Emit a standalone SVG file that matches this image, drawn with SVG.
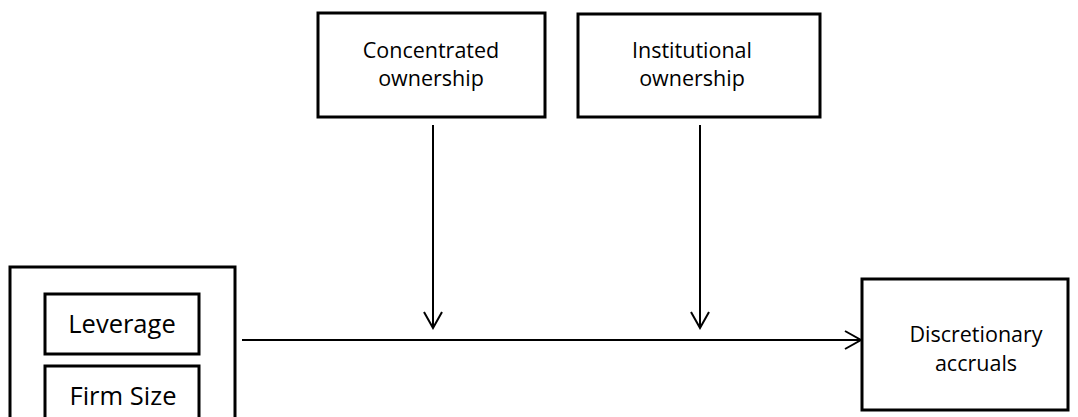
<svg xmlns="http://www.w3.org/2000/svg" width="1078" height="417" viewBox="0 0 1078 417">
<defs>
<style>
.box{fill:#fff;stroke:#000;stroke-width:3}
.t{font-family:"Open Sans","Noto Sans",sans-serif;fill:#000;text-anchor:middle}
.s{font-size:21.5px}
.l{font-size:25.5px}
.c{stroke:#000;stroke-width:2;fill:none}
</style>
<marker id="ah" viewBox="0 0 20 20" refX="18" refY="10" markerWidth="20" markerHeight="20" markerUnits="userSpaceOnUse" orient="auto">
<path d="M2,1 L18,10 L2,19" fill="none" stroke="#000" stroke-width="2"/>
</marker>
</defs>
<rect width="1078" height="417" fill="#fff"/>
<g id="independent">
<rect class="box" x="10" y="267" width="225" height="160"/>
<g id="leverage">
<rect class="box" x="45" y="294" width="154" height="60"/>
<text class="t l" x="122" y="333">Leverage</text>
</g>
<g id="firmsize">
<rect class="box" x="45" y="366" width="154" height="60"/>
<text class="t l" x="123" y="405">Firm Size</text>
</g>
</g>
<g id="concentrated">
<rect class="box" x="318" y="13" width="227" height="104"/>
<text class="t s" x="431" y="58">Concentrated</text>
<text class="t s" x="431" y="86">ownership</text>
</g>
<g id="institutional">
<rect class="box" x="578" y="14" width="242" height="103"/>
<text class="t s" x="692" y="58">Institutional</text>
<text class="t s" x="692" y="86">ownership</text>
</g>
<g id="discretionary">
<rect class="box" x="862" y="279" width="206" height="131"/>
<text class="t s" x="976" y="342">Discretionary</text>
<text class="t s" x="976" y="371">accruals</text>
</g>
<g id="connectors">
<line class="c" x1="433" y1="125" x2="433" y2="328" marker-end="url(#ah)"/>
<line class="c" x1="700" y1="125" x2="700" y2="328" marker-end="url(#ah)"/>
<line class="c" x1="242" y1="340" x2="861" y2="340" marker-end="url(#ah)"/>
</g>
</svg>
